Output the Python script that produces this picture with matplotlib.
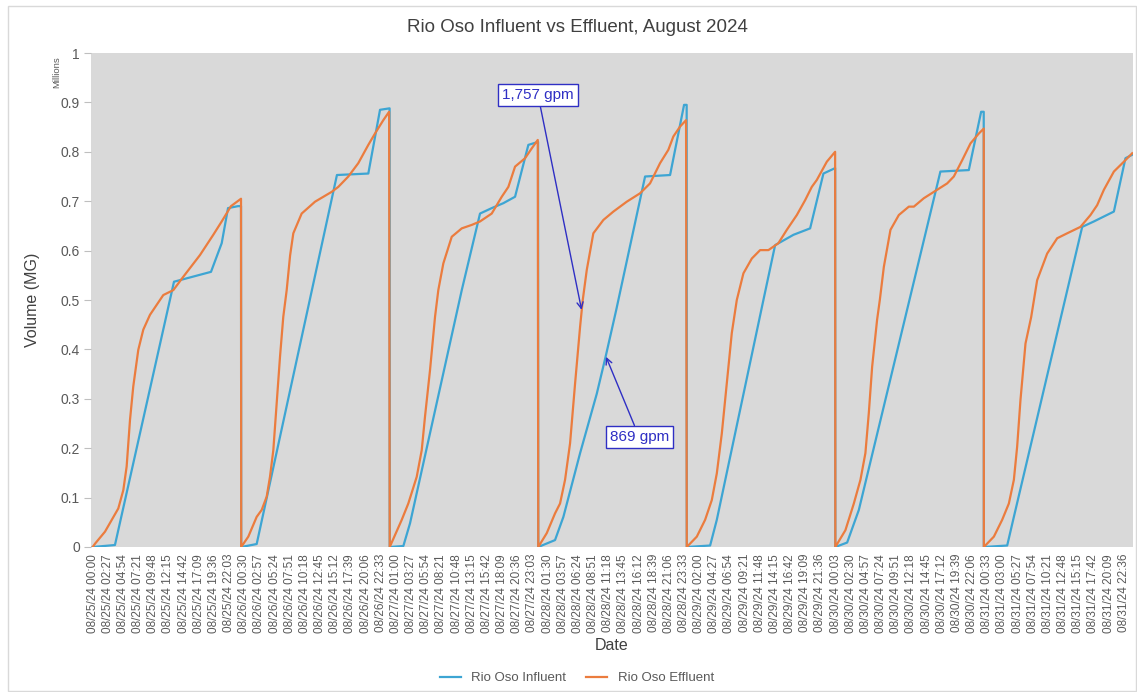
import numpy as np
import pandas as pd
import matplotlib
matplotlib.use("Agg")
import matplotlib.pyplot as plt
from matplotlib.patches import Rectangle

# daily readings, (hour of day, million gallons) - counters reset at midnight
days = ["2024-08-25", "2024-08-26", "2024-08-27", "2024-08-28", "2024-08-29", "2024-08-30", "2024-08-31"]

influent_0825 = [(0, 0), (3.6, 0.004), (13.14, 0.537), (19.12, 0.557), (20.85, 0.615), (21.87, 0.686), (23.49, 0.69), (23.97, 0.69)]
influent_0826 = [(0, 0), (2.5, 0.006), (15.47, 0.753), (20.54, 0.756), (22.43, 0.885), (23.98, 0.888)]
influent_0827 = [(0, 0), (2.2, 0.002), (3.28, 0.048), (11.64, 0.52), (14.59, 0.675), (16.48, 0.686), (18.36, 0.696), (20.25, 0.709), (22.4, 0.814), (23.97, 0.82)]
influent_0828 = [(0, 0), (2.71, 0.014), (4.06, 0.061), (6.76, 0.19), (9.45, 0.31), (10.88, 0.385), (12.6, 0.48), (17.26, 0.75), (21.3, 0.753), (23.56, 0.895), (23.98, 0.895)]
influent_0829 = [(0, 0), (3.77, 0.003), (4.85, 0.055), (12.38, 0.5), (14.27, 0.611), (17.24, 0.632), (19.93, 0.645), (22.08, 0.756), (23.97, 0.767)]
influent_0830 = [(0, 0), (1.91, 0.009), (3.8, 0.075), (16.98, 0.76), (21.57, 0.763), (23.56, 0.881), (23.98, 0.881)]
influent_0831 = [(0, 0), (3.77, 0.003), (4.85, 0.061), (15.89, 0.648), (17.78, 0.659), (19.39, 0.669), (21.01, 0.679), (22.88, 0.787), (23.97, 0.794)]

effluent_0825 = [(0, 0), (0.4, 0.007), (1.99, 0.031), (4.14, 0.078), (4.95, 0.115), (5.49, 0.163), (6.03, 0.257), (6.56, 0.325),
                 (7.37, 0.399), (8.18, 0.44), (9.26, 0.47), (11.41, 0.51), (13.03, 0.52), (14.64, 0.547), (17.34, 0.591),
                 (19.49, 0.632), (20.9, 0.66), (22.35, 0.69), (23.97, 0.705)]
effluent_0826 = [(0, 0), (1.15, 0.021), (2.5, 0.061), (3.31, 0.075), (4.12, 0.102), (4.65, 0.142), (5.19, 0.196), (5.74, 0.291),
                 (6.27, 0.385), (6.8, 0.466), (7.35, 0.52), (7.9, 0.59), (8.42, 0.635), (9.77, 0.675), (11.93, 0.699), (14.63, 0.719),
                 (15.69, 0.729), (17.31, 0.75), (18.92, 0.777), (20.54, 0.814), (21.62, 0.837), (22.96, 0.864), (23.9, 0.881)]
effluent_0827 = [(0, 0), (1.94, 0.055), (3.0, 0.088), (4.36, 0.142), (5.17, 0.196), (5.7, 0.264), (6.51, 0.358), (7.32, 0.466),
                 (7.85, 0.52), (8.66, 0.574), (10.02, 0.628), (11.64, 0.645), (13.25, 0.652), (14.59, 0.659), (16.48, 0.675),
                 (18.1, 0.709), (19.17, 0.729), (20.25, 0.77), (21.87, 0.787), (22.95, 0.807), (23.92, 0.824)]
effluent_0828 = [(0, 0), (1.37, 0.028), (2.71, 0.068), (3.52, 0.088), (4.33, 0.136), (5.14, 0.21), (5.95, 0.331), (6.76, 0.446),
                 (7.19, 0.5), (7.84, 0.561), (8.9, 0.635), (10.52, 0.662), (12.14, 0.679), (14.3, 0.699), (16.45, 0.716),
                 (18.06, 0.736), (19.68, 0.777), (21.02, 0.804), (21.83, 0.831), (22.91, 0.851), (23.88, 0.864)]
effluent_0829 = [(0, 0), (1.62, 0.021), (2.96, 0.055), (4.04, 0.095), (4.85, 0.149), (5.66, 0.23), (6.46, 0.331), (7.27, 0.433),
                 (8.08, 0.5), (9.15, 0.554), (10.51, 0.584), (11.85, 0.601), (13.19, 0.601), (14.8, 0.615), (16.16, 0.642),
                 (17.78, 0.672), (19.12, 0.702), (20.2, 0.729), (21.01, 0.743), (22.63, 0.78), (23.97, 0.8)]
effluent_0830 = [(0, 0), (1.63, 0.034), (2.99, 0.088), (4.06, 0.136), (4.86, 0.19), (5.41, 0.271), (5.95, 0.365), (6.75, 0.46),
                 (7.19, 0.5), (7.84, 0.567), (8.91, 0.642), (10.26, 0.672), (11.88, 0.689), (12.69, 0.689), (14.3, 0.706),
                 (16.45, 0.723), (18.07, 0.736), (19.15, 0.75), (20.5, 0.783), (21.84, 0.817), (23.19, 0.837), (23.99, 0.847)]
effluent_0831 = [(0, 0), (1.62, 0.021), (2.96, 0.055), (4.04, 0.088), (4.85, 0.136), (5.38, 0.203), (5.92, 0.298), (6.73, 0.412),
                 (7.64, 0.465), (8.61, 0.54), (10.23, 0.594), (11.85, 0.625), (13.46, 0.635), (15.61, 0.648), (17.23, 0.672),
                 (18.31, 0.692), (19.39, 0.723), (21.01, 0.76), (22.63, 0.78), (23.97, 0.797)]

influent_days = [influent_0825, influent_0826, influent_0827, influent_0828, influent_0829, influent_0830, influent_0831]
effluent_days = [effluent_0825, effluent_0826, effluent_0827, effluent_0828, effluent_0829, effluent_0830, effluent_0831]

# excel category labels, one every 147 minutes
label_step_min = 147
n_labels = 69

annotations = [("1,757 gpm", (79.0, 0.48), (71.96, 0.915)),
               ("869 gpm", (82.95, 0.385), (88.3, 0.223))]

blue = "#3DA5D3"
orange = "#EB7C3E"
note_c = "#2F2FC4"
grey_txt = "#595959"


def to_series(day_list):
    # stitch the days together on one time axis (hours since 08/25 00:00)
    xs, ys = [], []
    for i, pts in enumerate(day_list):
        for h, v in pts:
            xs.append(i * 24 + h)
            ys.append(v)
    return np.array(xs), np.array(ys)


plt.rcParams["font.family"] = ["Liberation Sans", "DejaVu Sans"]

fig = plt.figure(figsize=(11.37, 6.92), dpi=100)
fig.patches.append(Rectangle((8 / 1137, 1 / 692), 1128 / 1137, 685 / 692, transform=fig.transFigure,
                             fill=False, ec="#D9D9D9", lw=1))
ax = fig.add_axes([91 / 1137, 1 - 547 / 692, 1042 / 1137, 494 / 692])
ax.set_facecolor("#D9D9D9")

xi, yi = to_series(influent_days)
xe, ye = to_series(effluent_days)
ax.plot(xi, yi, color=blue, lw=1.6, label="Rio Oso Influent")
ax.plot(xe, ye, color=orange, lw=1.6, label="Rio Oso Effluent")

ax.set_xlim(-0.27, 168.1)
ax.set_ylim(0, 1)
ax.set_yticks(np.arange(0, 1.01, 0.1))
ax.set_yticklabels(["0"] + ["%.1f" % v for v in np.arange(0.1, 0.95, 0.1)] + ["1"])

tick_h = np.arange(n_labels) * label_step_min / 60
tick_times = pd.Timestamp(days[0]) + pd.to_timedelta(tick_h, unit="h")
ax.set_xticks(tick_h)
ax.set_xticklabels([t.strftime("%m/%d/%y %H:%M") for t in tick_times], rotation=90)

ax.tick_params(axis="x", length=0, pad=5, labelsize=8.5, labelcolor=grey_txt)
ax.tick_params(axis="y", length=5, pad=3, color="#BFBFBF", labelsize=10, labelcolor=grey_txt)
for s in ax.spines.values():
    s.set_visible(False)

ax.set_xlabel("Date", fontsize=11.5, color="#404040", labelpad=4)
fig.text(33 / 1137, 1 - 300 / 692, "Volume (MG)", rotation=90, fontsize=11.5, color="#404040",
         ha="center", va="center")
fig.text(57 / 1137, 1 - 72 / 692, "Millions", rotation=90, fontsize=6.8, color=grey_txt, ha="center", va="center")
fig.text(577 / 1137, 1 - 28 / 692, "Rio Oso Influent vs Effluent, August 2024", fontsize=13.5,
         color="#404040", ha="center", va="center")

for txt, head, pos in annotations:
    ax.annotate(txt, xy=head, xytext=pos, ha="center", va="center", fontsize=11, color=note_c,
                bbox=dict(boxstyle="square,pad=0.25", fc="white", ec=note_c, lw=1),
                arrowprops=dict(arrowstyle="->", color=note_c, lw=1, shrinkA=0, shrinkB=0))

fig.legend(loc="center", bbox_to_anchor=(577 / 1137, 1 - 678 / 692), ncol=2, frameon=False,
           fontsize=9.5, handlelength=1.6, columnspacing=1.5, labelcolor=grey_txt)

fig.savefig("out.png", dpi=100)
